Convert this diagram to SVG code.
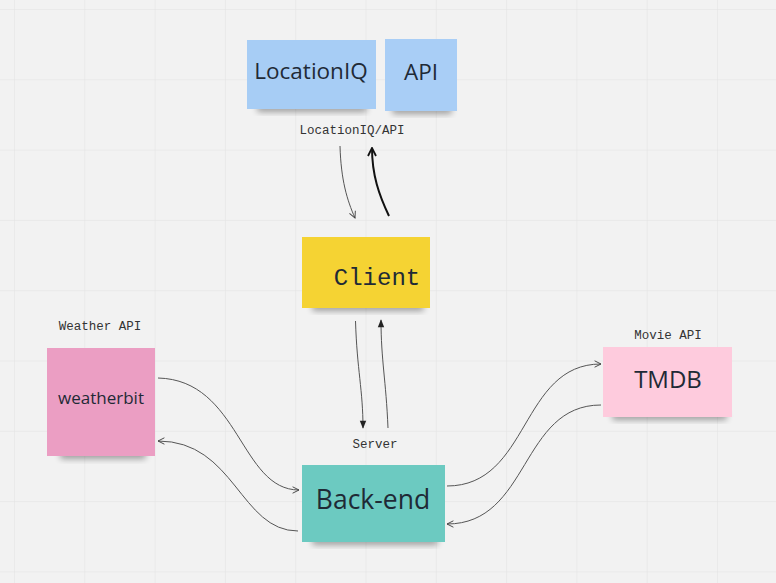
<svg xmlns="http://www.w3.org/2000/svg" width="776" height="583" viewBox="0 0 776 583">
<defs>
<pattern id="grid" x="14" y="9" width="70.3" height="70.3" patternUnits="userSpaceOnUse">
<path d="M0,0 H70.3 M0,0 V70.3" fill="none" stroke="#e2e2e2" stroke-width="1"/>
</pattern>
<filter id="sh" x="-20%" y="-50%" width="140%" height="200%">
<feGaussianBlur stdDeviation="3"/>
</filter>
<marker id="open" viewBox="0 0 10 10" refX="9" refY="5" markerWidth="8" markerHeight="8" markerUnits="userSpaceOnUse" orient="auto">
<path d="M1,1 L9,5 L1,9" fill="none" stroke="#444" stroke-width="1.2"/>
</marker>
<marker id="openb" viewBox="0 0 10 10" refX="9" refY="5" markerWidth="10" markerHeight="10" markerUnits="userSpaceOnUse" orient="auto">
<path d="M1,1 L9,5 L1,9" fill="none" stroke="#111" stroke-width="1.8"/>
</marker>
<marker id="fill" viewBox="0 0 10 10" refX="9" refY="5" markerWidth="10" markerHeight="8" markerUnits="userSpaceOnUse" orient="auto">
<path d="M0,1 L10,5 L0,9 Z" fill="#222"/>
</marker>
<style>
.lbl{font-family:"Liberation Mono","DejaVu Sans Mono",monospace;font-size:12.5px;fill:#333;text-anchor:middle}
.big{font-family:"Open Sans","Noto Sans",sans-serif;fill:#1f2a36;text-anchor:middle}
.shadow{fill:#000;opacity:0.35;filter:url(#sh)}
.con{fill:none;stroke:#555;stroke-width:1}
</style>
</defs>
<rect width="776" height="583" fill="#f2f2f2"/>
<rect width="776" height="583" fill="url(#grid)"/>

<g id="locationiq">
<rect class="shadow" x="257" y="104" width="110" height="8" rx="3"/>
<rect x="247" y="40" width="129" height="69" fill="#a7cdf5"/>
<text class="big" x="311" y="79" font-size="22.5">LocationIQ</text>
</g>
<g id="api">
<rect class="shadow" x="392" y="106" width="60" height="8" rx="3"/>
<rect x="385" y="39" width="72" height="72" fill="#a9cef6"/>
<text class="big" x="421" y="80" font-size="22.5">API</text>
</g>
<text class="lbl" x="352" y="134">LocationIQ/API</text>

<g id="client">
<rect class="shadow" x="312" y="303" width="112" height="8" rx="3"/>
<rect x="302" y="237" width="128" height="71" fill="#f5d333"/>
<text x="377" y="285" font-family="'Liberation Mono','DejaVu Sans Mono',monospace" font-size="24" fill="#1f2a36" text-anchor="middle">Client</text>
</g>

<text class="lbl" x="375" y="448">Server</text>
<g id="backend">
<rect class="shadow" x="312" y="537" width="126" height="8" rx="3"/>
<rect x="302" y="465" width="143" height="77" fill="#6ccac1"/>
<text class="big" x="373" y="509" font-size="26.5">Back-end</text>
</g>

<text class="lbl" x="100" y="330">Weather API</text>
<g id="weatherbit">
<rect class="shadow" x="60" y="450" width="86" height="9" rx="3"/>
<rect x="47" y="348" width="108" height="108" fill="#eb9ec3"/>
<text class="big" x="101" y="404" font-size="17" fill="#3a2a34">weatherbit</text>
</g>

<text class="lbl" x="668" y="339">Movie API</text>
<g id="tmdb">
<rect class="shadow" x="612" y="412" width="115" height="8" rx="3"/>
<rect x="603" y="347" width="129" height="70" fill="#fecbdd"/>
<text class="big" x="668" y="388" font-size="24">TMDB</text>
</g>

<g id="connectors">
<path class="con" d="M340,146 C341,180 347,200 355,218" marker-end="url(#open)"/>
<path d="M389,216 C379,195 372,175 372,148" fill="none" stroke="#111" stroke-width="2" marker-end="url(#openb)"/>
<path class="con" d="M355.5,321 C357,370 363,390 363,428" stroke="#444" stroke-width="1.3" marker-end="url(#fill)"/>
<path class="con" d="M388,428 C386,380 381,360 381,320" stroke="#444" stroke-width="1.3" marker-end="url(#fill)"/>
<path class="con" d="M158,378 C240,380 240,490 299,490" marker-end="url(#open)"/>
<path class="con" d="M298,531 C240,531 235,441 158,441" marker-end="url(#open)"/>
<path class="con" d="M447,486 C530,486 520,364 601,364" marker-end="url(#open)"/>
<path class="con" d="M601,405 C520,405 530,524 447,524" marker-end="url(#open)"/>
</g>
</svg>
